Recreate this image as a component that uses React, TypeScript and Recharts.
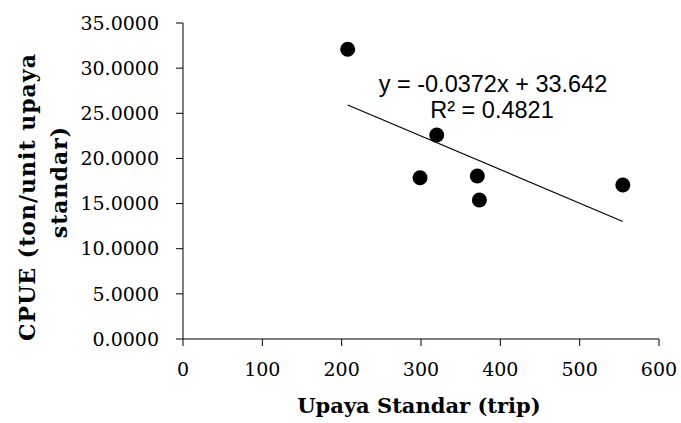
import { ReferenceLine, Scatter, ScatterChart, XAxis, YAxis } from 'recharts'

const effort = [207.6, 319.8, 298.8, 371, 373.6, 554.4]
const cpue = [32.1, 22.6, 17.86, 18.05, 15.4, 17.05]
const xTicks = [0, 100, 200, 300, 400, 500, 600]
const yTicks = [0, 5, 10, 15, 20, 25, 30, 35]
const slope = -0.0372
const intercept = 33.642
const equationText = 'y = -0.0372x + 33.642'
const r2Text = 'R² = 0.4821'

const points = effort.map((x, i) => ({ x, y: cpue[i] }))
const xMin = Math.min(...effort)
const xMax = Math.max(...effort)
const trend = [
  { x: xMin, y: slope * xMin + intercept },
  { x: xMax, y: slope * xMax + intercept },
]

const serif = '"DejaVu Serif", serif'
const tickStyle = { fill: '#000', fontSize: 19, fontFamily: serif }

const Dot = (props: any) => <circle cx={props.cx} cy={props.cy} r={7.5} fill="#000" />

const XTitle = () => (
  <text x={419} y={413} textAnchor="middle" fontFamily={serif} fontWeight="bold" fontSize={21} fill="#000">
    Upaya Standar (trip)
  </text>
)

const YTitle = () => (
  <g>
    <text
      x={35}
      y={197}
      transform="rotate(-90 35 197)"
      textAnchor="middle"
      fontFamily={serif}
      fontWeight="bold"
      fontSize={22}
      letterSpacing={1}
      fill="#000"
    >
      CPUE (ton/unit upaya
    </text>
    <text
      x={67}
      y={182}
      transform="rotate(-90 67 182)"
      textAnchor="middle"
      fontFamily={serif}
      fontWeight="bold"
      fontSize={22}
      letterSpacing={1}
      fill="#000"
    >
      standar)
    </text>
    <g fontFamily='"Liberation Sans", Arial, sans-serif' fontSize={23.5} fill="#000" textAnchor="middle">
      <text x={493} y={92}>{equationText}</text>
      <text x={492} y={118}>{r2Text}</text>
    </g>
  </g>
)

export default function App() {
  return (
    <div style={{ position: 'absolute', left: 0, top: 0, background: '#fff' }}>
      <ScatterChart width={681} height={423} margin={{ top: 23, right: 22, bottom: 0, left: 0 }}>
        <XAxis
          type="number"
          dataKey="x"
          domain={[0, 600]}
          ticks={xTicks}
          height={84}
          tick={tickStyle}
          tickSize={7}
          tickMargin={17}
          stroke="#000"
          label={{ content: XTitle }}
        />
        <YAxis
          type="number"
          dataKey="y"
          domain={[0, 35]}
          ticks={yTicks}
          width={183}
          tick={tickStyle}
          tickSize={7}
          tickMargin={17}
          stroke="#000"
          tickFormatter={(v) => Number(v).toFixed(4)}
          label={{ content: YTitle }}
        />
        <ReferenceLine segment={trend} stroke="#000" strokeWidth={1.2} ifOverflow="visible" />
        <Scatter data={points} shape={Dot} isAnimationActive={false} />
      </ScatterChart>
    </div>
  )
}
